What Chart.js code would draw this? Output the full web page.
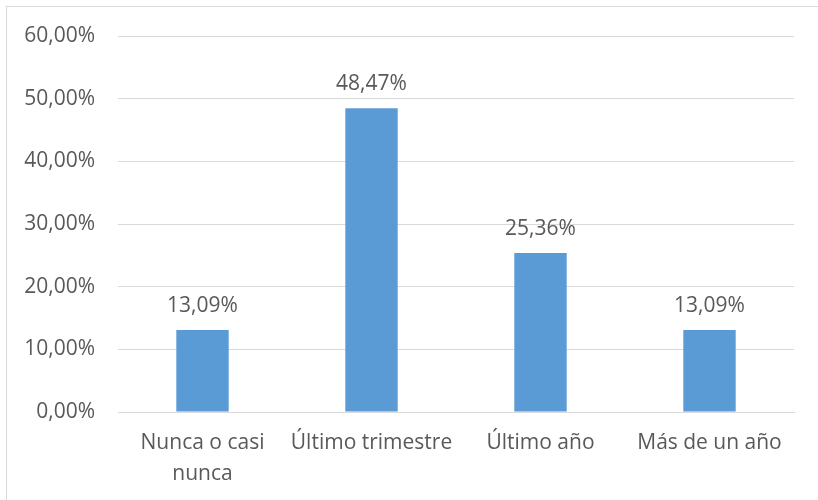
<!DOCTYPE html>
<html>
<head>
<meta charset="utf-8">
<script src="https://cdn.jsdelivr.net/npm/chart.js@4"></script>
<style>
  html, body { margin: 0; padding: 0; background: #fff; }
  #wrap { position: relative; width: 818px; height: 500px; overflow: hidden; }
  #frame { position: absolute; left: 6px; top: 6px; width: 830px; height: 520px; border: 1px solid #d9d9d9; box-sizing: border-box; }
  canvas { position: absolute; left: 0; top: 0; }
</style>
</head>
<body>
<div id="wrap">
  <div id="frame"></div>
  <canvas id="freqChart" width="818" height="500"></canvas>
</div>
<script>
const categories = [['Nunca o casi', 'nunca'], 'Último trimestre', 'Último año', 'Más de un año'];
const percentages = [13.09, 48.47, 25.36, 13.09];
const yTicks = [0, 10, 20, 30, 40, 50, 60];

const FONT = 'Open Sans';
const TEXT = '#595959';

function fmtPct(v, decimals) {
  return v.toFixed(decimals).replace('.', ',') + '%';
}

// value labels above each bar
const barLabels = {
  id: 'barLabels',
  afterDatasetsDraw(chart) {
    const ctx = chart.ctx;
    const meta = chart.getDatasetMeta(0);
    ctx.save();
    ctx.font = '21px "' + FONT + '"';
    ctx.fillStyle = TEXT;
    ctx.textAlign = 'center';
    ctx.textBaseline = 'middle';
    meta.data.forEach((bar, i) => {
      ctx.fillText(fmtPct(percentages[i], 2), bar.x, bar.y - 24);
    });
    ctx.restore();
  }
};

const chart = new Chart(document.getElementById('freqChart'), {
  type: 'bar',
  data: {
    labels: categories,
    datasets: [{
      data: percentages,
      backgroundColor: '#5b9bd5',
      barPercentage: 0.62,
      categoryPercentage: 0.5
    }]
  },
  options: {
    responsive: false,
    animation: false,
    layout: { padding: { top: 36, right: 24, left: 0, bottom: 0 } },
    plugins: {
      legend: { display: false },
      tooltip: { enabled: false }
    },
    scales: {
      y: {
        min: 0,
        max: 60,
        afterBuildTicks: scale => { scale.ticks = yTicks.map(v => ({ value: v })); },
        afterFit: scale => { scale.width = 118; },
        border: { display: false },
        grid: { color: '#d9d9d9', lineWidth: 1, drawTicks: false },
        ticks: {
          padding: 23,
          color: TEXT,
          font: { family: FONT, size: 21 },
          callback: v => fmtPct(v, 2)
        }
      },
      x: {
        afterFit: scale => { scale.height = 88; },
        border: { color: '#d9d9d9', width: 1 },
        grid: { display: false, drawTicks: false },
        ticks: {
          padding: 16,
          color: TEXT,
          maxRotation: 0,
          autoSkip: false,
          font: { family: FONT, size: 21, lineHeight: 1.45 }
        }
      }
    }
  },
  plugins: [barLabels]
});
</script>
</body>
</html>
